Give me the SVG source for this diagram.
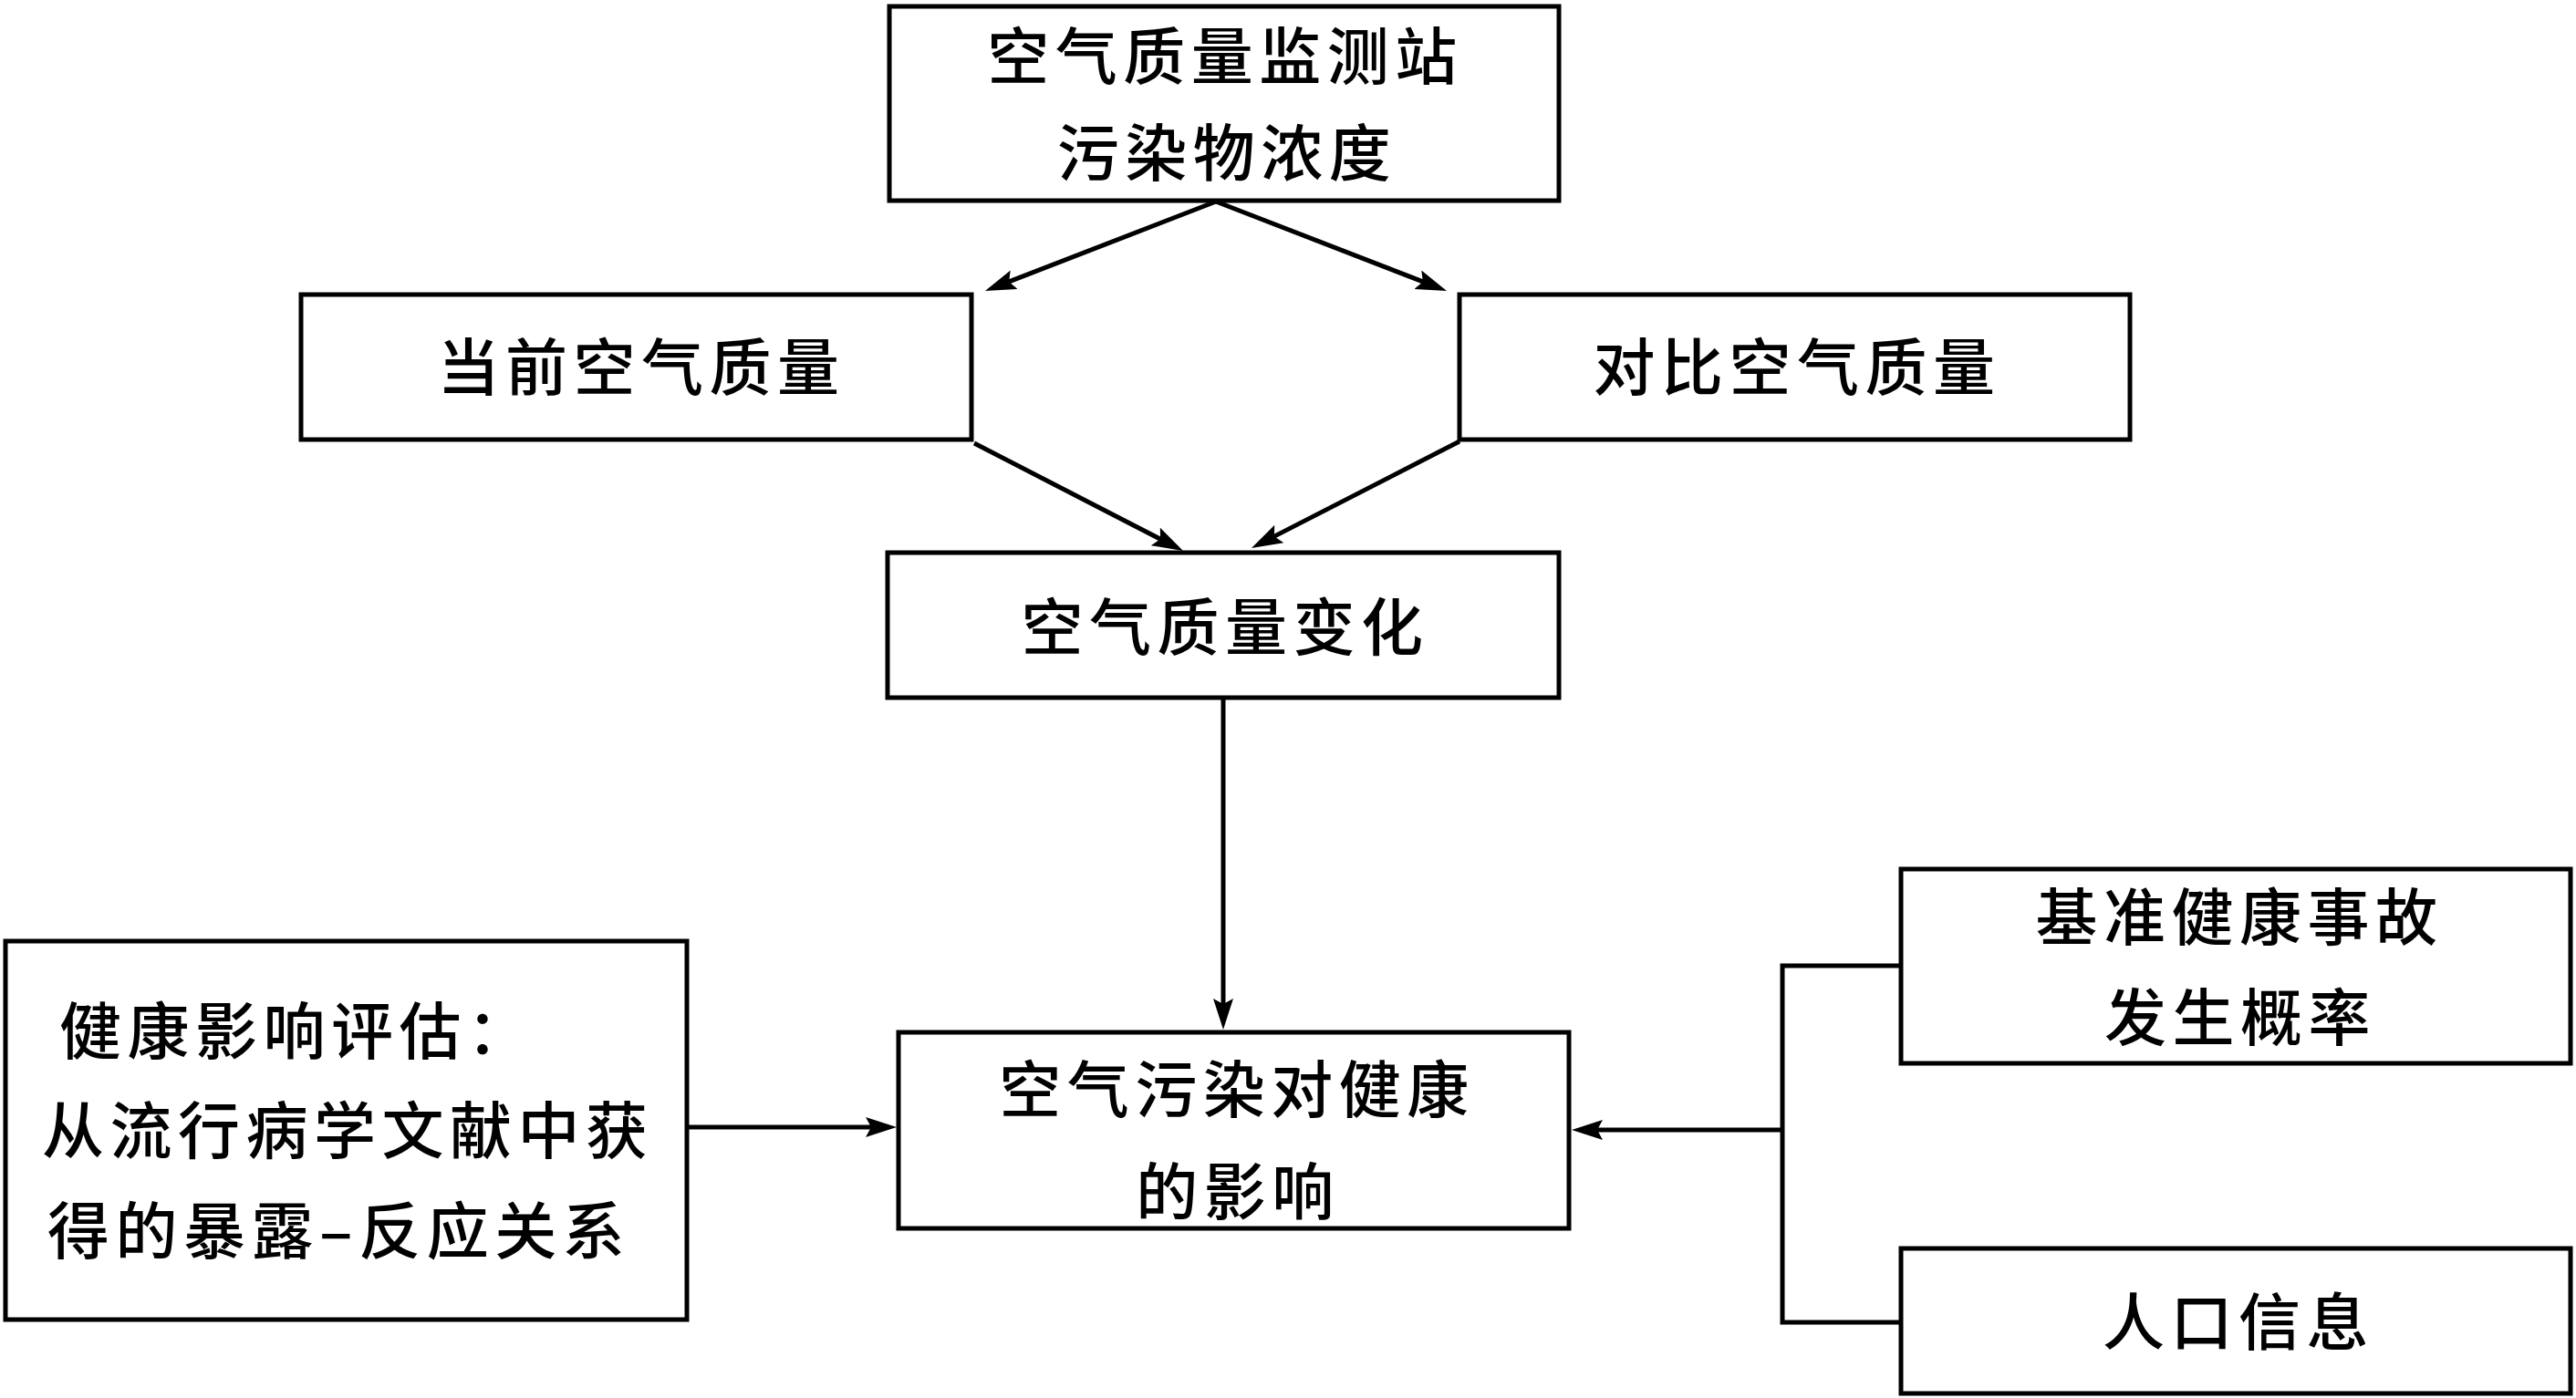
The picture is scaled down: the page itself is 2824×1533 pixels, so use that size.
<svg xmlns="http://www.w3.org/2000/svg" width="2824" height="1533" viewBox="0 0 2824 1533">
<style>
.box{fill:#fff;stroke:#000;stroke-width:5}
.t{font-family:"Noto Sans CJK SC","Noto Sans CJK TC",sans-serif;font-size:68px;font-weight:500;fill:#000;letter-spacing:6.5px}
.c{text-anchor:middle}
.ln{fill:none;stroke:#000;stroke-width:5}
</style>
<defs>
<marker id="ah" markerUnits="userSpaceOnUse" markerWidth="40" markerHeight="26" refX="24" refY="11" orient="auto" viewBox="0 0 40 26">
<path d="M0,0 L34,11 L0,22 L6,11 z" fill="#000"/>
</marker>
</defs>
<rect width="2824" height="1533" fill="#fff"/>
<g id="connectors">
<line class="ln" x1="1333" y1="221" x2="1089.3" y2="315.4" marker-end="url(#ah)"/>
<line class="ln" x1="1333" y1="221" x2="1576.7" y2="315.4" marker-end="url(#ah)"/>
<line class="ln" x1="1068" y1="486" x2="1288.1" y2="599.4" marker-end="url(#ah)"/>
<line class="ln" x1="1600" y1="484" x2="1380.9" y2="596.4" marker-end="url(#ah)"/>
<line class="ln" x1="1341" y1="765" x2="1341" y2="1119" marker-end="url(#ah)"/>
<line class="ln" x1="753" y1="1236" x2="973" y2="1236" marker-end="url(#ah)"/>
<path class="ln" d="M2084,1059 H1954 V1450 H2084"/>
<line class="ln" x1="1954" y1="1239" x2="1733" y2="1239" marker-end="url(#ah)"/>
</g>
<g id="n_monitor">
<rect class="box" x="975" y="7" width="734" height="213"/>
<text class="t c" x="1343" y="87">空气质量监测站</text>
<text class="t c" x="1345" y="193">污染物浓度</text>
</g>
<g id="n_current">
<rect class="box" x="330" y="323" width="735" height="159"/>
<text class="t c" x="703" y="428">当前空气质量</text>
</g>
<g id="n_compare">
<rect class="box" x="1600" y="323" width="735" height="159"/>
<text class="t c" x="1970" y="428">对比空气质量</text>
</g>
<g id="n_change">
<rect class="box" x="973" y="606" width="736" height="159"/>
<text class="t c" x="1343" y="713">空气质量变化</text>
</g>
<g id="n_impact">
<rect class="box" x="985" y="1132" width="735" height="215"/>
<text class="t c" x="1356" y="1220">空气污染对健康</text>
<text class="t c" x="1357" y="1332">的影响</text>
</g>
<g id="n_hia">
<rect class="box" x="6" y="1032" width="747" height="415"/>
<text class="t" x="65" y="1156">健康影响评估：</text>
<text class="t" x="46" y="1265">从流行病学文献中获</text>
<text class="t" x="52" y="1375">得的暴露–反应关系</text>
</g>
<g id="n_baseline">
<rect class="box" x="2084" y="953" width="734" height="213"/>
<text class="t c" x="2455" y="1031">基准健康事故</text>
<text class="t c" x="2456" y="1141">发生概率</text>
</g>
<g id="n_population">
<rect class="box" x="2084" y="1369" width="734" height="159"/>
<text class="t c" x="2454" y="1475">人口信息</text>
</g>
</svg>
